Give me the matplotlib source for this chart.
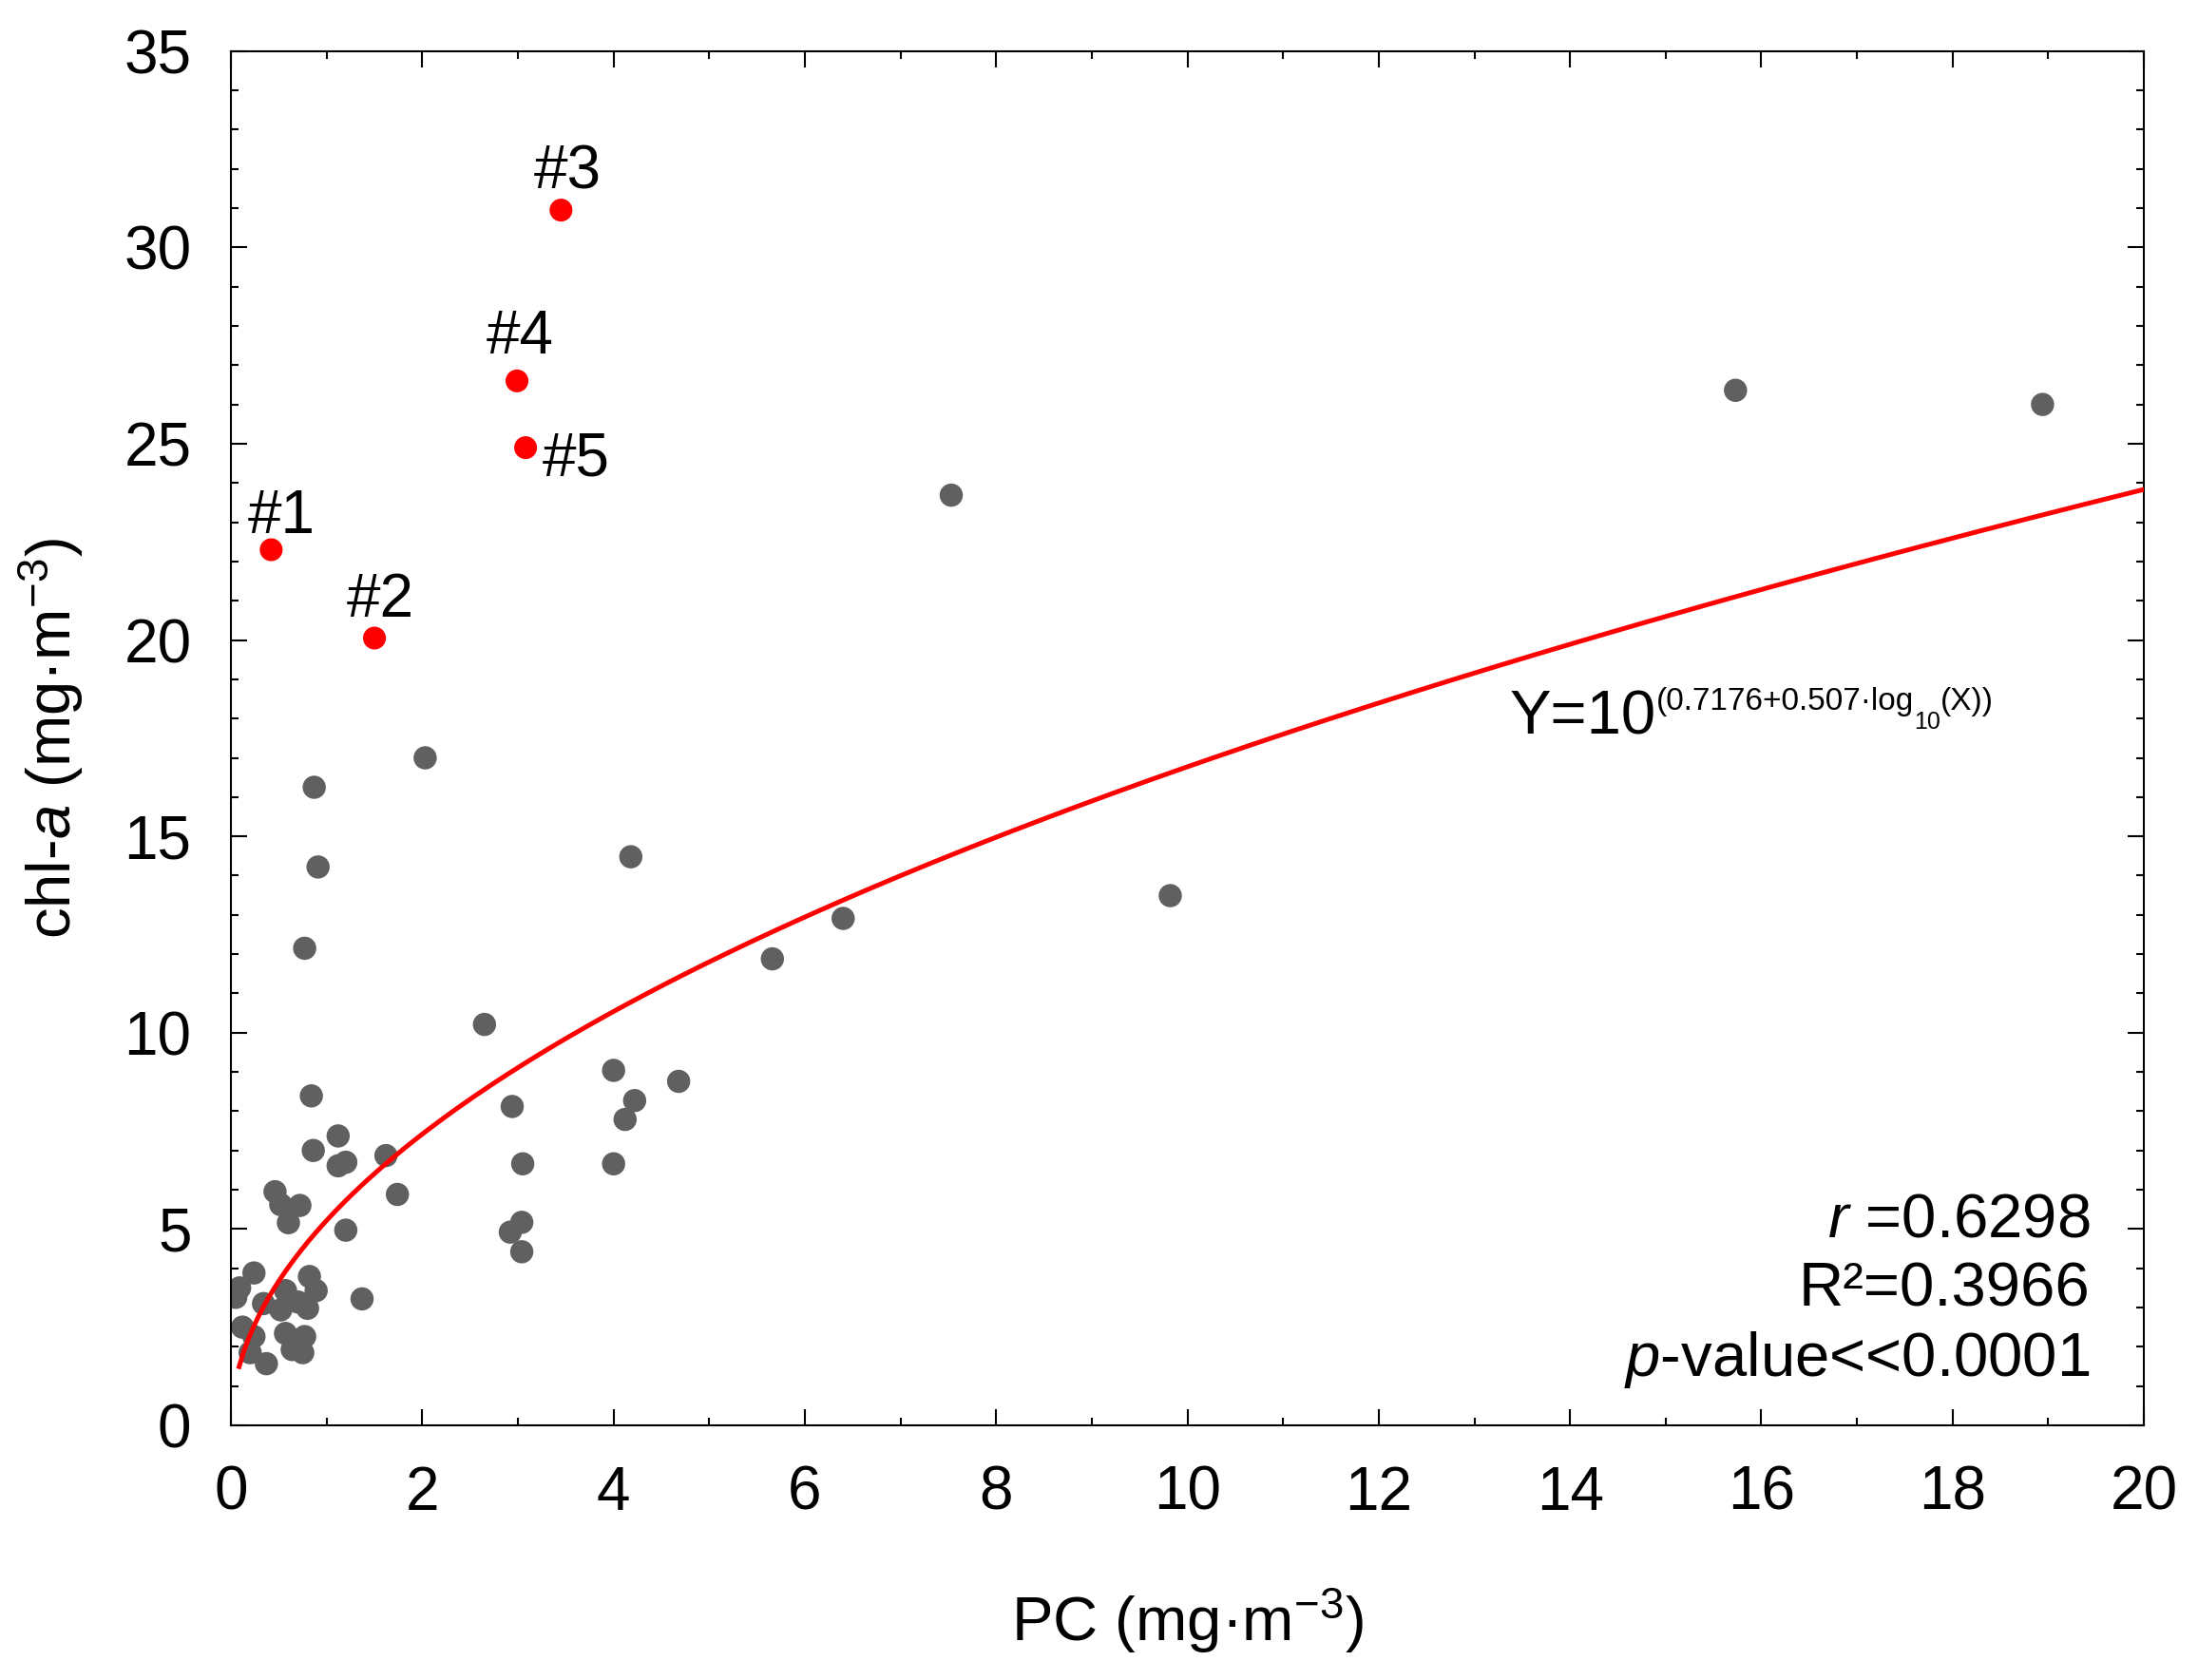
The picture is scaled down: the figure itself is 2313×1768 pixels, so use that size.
import numpy as np
import matplotlib
matplotlib.use("Agg")
import matplotlib.pyplot as plt
from matplotlib.ticker import MultipleLocator

plt.rcParams['font.family'] = ['Liberation Sans', 'DejaVu Sans']
plt.rcParams['mathtext.fontset'] = 'custom'
plt.rcParams['mathtext.rm'] = 'Liberation Sans'
plt.rcParams['mathtext.it'] = 'Liberation Sans:italic'

# grey samples (PC, chl-a)
pc_grey = [15.73, 18.94, 7.53, 2.03, 0.87, 0.91, 4.18, 9.82, 6.40, 5.66,
           0.77, 2.65, 0.84, 4.00, 4.68, 4.22, 4.12, 2.94, 1.12, 0.86,
           1.12, 1.20, 1.62, 3.05, 4.00, 1.74, 0.46, 0.52, 0.72, 0.60,
           1.20, 2.92, 3.04, 3.04, 1.37,
           0.24, 0.09, 0.05, 0.82, 0.89, 0.34, 0.57, 0.70, 0.80, 0.52,
           0.12, 0.24, 0.57, 0.77, 0.75, 0.37, 0.64, 0.20]
chla_grey = [26.36, 26.00, 23.69, 17.00, 16.25, 14.22, 14.48, 13.49, 12.91, 11.88,
             12.15, 10.21, 8.39, 9.04, 8.76, 8.27, 7.79, 8.12, 7.37, 7.00,
             6.61, 6.70, 6.87, 6.66, 6.66, 5.88, 5.95, 5.62, 5.60, 5.16,
             4.97, 4.92, 5.17, 4.42, 3.22,
             3.88, 3.50, 3.26, 3.79, 3.43, 3.10, 3.43, 3.14, 2.98, 2.94,
             2.50, 2.26, 2.34, 2.26, 1.85, 1.57, 1.93, 1.85]

# highlighted samples #1-#5
pc_red = [0.42, 1.50, 3.45, 2.99, 3.08]
chla_red = [22.3, 20.05, 30.95, 26.6, 24.9]
red_labels = ['#1', '#2', '#3', '#4', '#5']

# fitted power law Y = 10^(a + b*log10(X))
fit_a = 0.7176
fit_b = 0.507
fit_xmin, fit_xmax = 0.085, 20

stats_lines = [r'$\it{r}$ =0.6298', 'R²=0.3966', r'$\it{p}$-value<<0.0001']

fig = plt.figure(figsize=(23.13, 17.68), dpi=100)
ax = fig.add_axes([0.1051, 0.1516, 0.8703, 0.818])

ax.scatter(pc_grey, chla_grey, s=310, color='#606060', edgecolors='none', zorder=2)
ax.scatter(pc_red, chla_red, s=300, color='#ff0000', edgecolors='none', zorder=2)

x_fit = np.linspace(fit_xmin, fit_xmax, 500)
y_fit = 10 ** (fit_a + fit_b * np.log10(x_fit))
ax.plot(x_fit, y_fit, color='#ff0000', lw=3.6, zorder=3)

# labels of the highlighted points
lab_pos = [(0.53, 22.72, 'center'), (1.56, 20.6, 'center'), (3.52, 31.5, 'center'),
           (3.02, 27.3, 'center'), (3.26, 24.2, 'left')]
for lab, (lx, ly, ha) in zip(red_labels, lab_pos):
    ax.text(lx, ly, lab, fontsize=46, ha=ha, va='baseline')

# equation
eq_main = ax.text(13.37, 17.6, 'Y=10', fontsize=47, va='baseline')
eq_sup = ax.annotate('(0.7176+0.507·log', xy=(1.0, 1.04), xycoords=eq_main,
                     ha='left', va='top', fontsize=24)
eq_sub = ax.annotate('10', xy=(1.0, 0.22), xycoords=eq_sup,
                     ha='left', va='top', fontsize=18)
ax.annotate('(X))', xy=(1.0, 0.0), xycoords=(eq_sub, eq_sup),
            ha='left', va='bottom', fontsize=24)

# statistics
for txt, yy in zip(stats_lines, [4.81, 3.04, 1.26]):
    ax.text(19.44, yy, txt, fontsize=47, ha='right', va='baseline')

ax.set_xlim(0, 20)
ax.set_ylim(0, 35)
ax.xaxis.set_major_locator(MultipleLocator(2))
ax.xaxis.set_minor_locator(MultipleLocator(1))
ax.yaxis.set_major_locator(MultipleLocator(5))
ax.yaxis.set_minor_locator(MultipleLocator(1))
ax.tick_params(which='both', direction='in', top=True, right=True, width=1.5,
               labelsize=46)
ax.tick_params(which='major', length=12, pad=30)
ax.tick_params(which='minor', length=6)
for sp in ax.spines.values():
    sp.set_linewidth(1.5)

ax.set_xlabel(r'PC (mg·m$^{-3}$)', fontsize=47)
ax.set_ylabel(r'chl-$\it{a}$ (mg·m$^{-3}$)', fontsize=47)
ax.xaxis.set_label_coords(0.5, -0.117)
ax.yaxis.set_label_coords(-0.076, 0.5)

fig.savefig('out.png', dpi=100)
